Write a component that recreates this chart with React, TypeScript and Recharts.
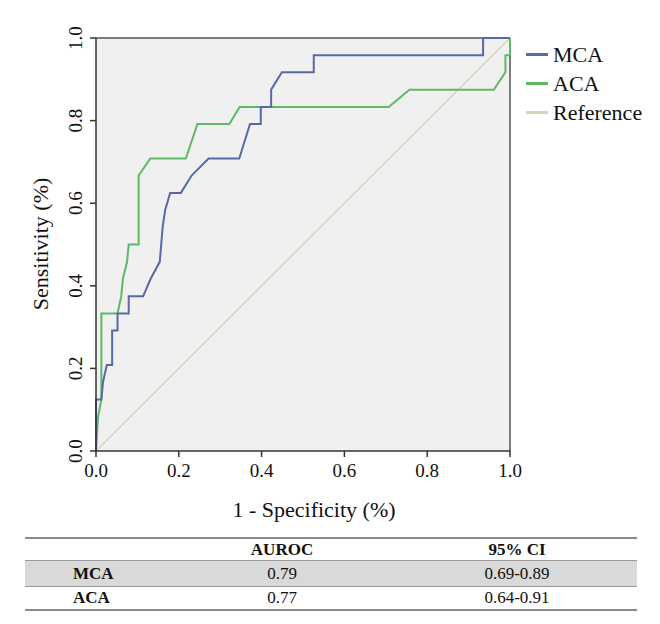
import React from 'react'
import {
  LineChart,
  Line,
  XAxis,
  YAxis,
  CartesianGrid,
  ReferenceLine,
  Legend,
  Label,
} from 'recharts'

// ROC points (1 - specificity, sensitivity)
const mcaFpr = [0, 0, 0.013, 0.017, 0.026, 0.039, 0.039, 0.052, 0.052, 0.079, 0.079, 0.114, 0.132, 0.154, 0.161, 0.167, 0.179, 0.205, 0.231, 0.272, 0.346, 0.372, 0.398, 0.398, 0.423, 0.423, 0.449, 0.526, 0.526, 0.935, 0.935, 1]
const mcaTpr = [0, 0.125, 0.125, 0.167, 0.208, 0.208, 0.292, 0.292, 0.333, 0.333, 0.375, 0.375, 0.417, 0.458, 0.542, 0.583, 0.625, 0.625, 0.667, 0.708, 0.708, 0.792, 0.792, 0.833, 0.833, 0.875, 0.917, 0.917, 0.958, 0.958, 1, 1]

const acaFpr = [0, 0.005, 0.013, 0.013, 0.052, 0.061, 0.065, 0.075, 0.079, 0.103, 0.103, 0.131, 0.217, 0.245, 0.322, 0.347, 0.707, 0.757, 0.961, 0.989, 0.989, 1, 1]
const acaTpr = [0, 0.083, 0.125, 0.333, 0.333, 0.375, 0.417, 0.458, 0.5, 0.5, 0.667, 0.708, 0.708, 0.792, 0.792, 0.833, 0.833, 0.875, 0.875, 0.917, 0.958, 0.958, 1]

const refFpr = [0, 1]
const refTpr = [0, 1]

const axisTicks = [0, 0.2, 0.4, 0.6, 0.8, 1]
const legendOrder = ['MCA', 'ACA', 'Reference']

const tableNames = ['MCA', 'ACA']
const aurocValues = ['0.79', '0.77']
const ciValues = ['0.69-0.89', '0.64-0.91']

const toPoints = (xs: number[], ys: number[]) => xs.map((x, i) => ({ x, y: ys[i] }))

const mcaData = toPoints(mcaFpr, mcaTpr)
const acaData = toPoints(acaFpr, acaTpr)
const refData = toPoints(refFpr, refTpr)

const FONT = '"Liberation Serif", "Times New Roman", Times, serif'

function YTick(props: any) {
  const { x, y, payload } = props
  const bx = x - 6
  return (
    <text
      x={bx}
      y={y}
      transform={`rotate(-90 ${bx} ${y})`}
      textAnchor="middle"
      fontSize={19}
      style={{ fontFamily: FONT }}
      fill="#111"
    >
      {Number(payload.value).toFixed(1)}
    </text>
  )
}

function RocLegend(props: any) {
  const items = [...(props.payload || [])].sort(
    (a: any, b: any) => legendOrder.indexOf(a.value) - legendOrder.indexOf(b.value)
  )
  return (
    <div style={{ fontFamily: FONT, fontSize: 22, color: '#111' }}>
      {items.map((it: any) => (
        <div key={it.value} style={{ height: 29, display: 'flex', alignItems: 'center' }}>
          <span style={{ display: 'inline-block', width: 22, height: 2.5, background: it.color, marginRight: 5 }} />
          <span style={{ lineHeight: '29px' }}>{it.value}</span>
        </div>
      ))}
    </div>
  )
}

export default function App() {
  return (
    <div
      style={{
        position: 'absolute',
        left: 0,
        top: 0,
        width: 660,
        height: 624,
        background: '#fff',
        fontFamily: FONT,
      }}
    >
      <LineChart
        width={660}
        height={530}
        margin={{ top: 38, right: 150, left: 36, bottom: 49 }}
        style={{ fontFamily: FONT }}
      >
        <CartesianGrid fill="#f0f0f0" horizontal={false} vertical={false} />
        <XAxis
          type="number"
          dataKey="x"
          domain={[0, 1]}
          ticks={axisTicks}
          tickFormatter={(v: number) => v.toFixed(1)}
          height={30}
          tickSize={6}
          tickMargin={7}
          stroke="#333"
          strokeWidth={1.5}
          tick={{ fontSize: 19, fill: '#111', style: { fontFamily: FONT } }}
        >
          <Label
            content={(p: any) => {
              const vb = p.viewBox
              return (
                <text
                  x={vb.x + vb.width / 2 + 11}
                  y={517}
                  textAnchor="middle"
                  fontSize={22}
                  style={{ fontFamily: FONT }}
                  fill="#111"
                >
                  1 - Specificity (%)
                </text>
              )
            }}
          />
        </XAxis>
        <YAxis
          type="number"
          domain={[0, 1]}
          ticks={axisTicks}
          width={60}
          tickSize={6}
          tickMargin={2}
          stroke="#333"
          strokeWidth={1.5}
          tick={<YTick />}
        >
          <Label
            content={() => (
              <text
                x={48}
                y={244}
                transform="rotate(-90 48 244)"
                textAnchor="middle"
                fontSize={22}
                style={{ fontFamily: FONT }}
                fill="#111"
              >
                Sensitivity (%)
              </text>
            )}
          />
        </YAxis>
        <ReferenceLine y={1} stroke="#555" strokeWidth={1.5} />
        <ReferenceLine x={1} stroke="#555" strokeWidth={1.5} />
        <Line
          data={refData}
          dataKey="y"
          name="Reference"
          type="linear"
          stroke="#d6d6b2"
          strokeWidth={1.5}
          dot={false}
          legendType="plainline"
          isAnimationActive={false}
        />
        <Line
          data={acaData}
          dataKey="y"
          name="ACA"
          type="linear"
          stroke="#5fb865"
          strokeWidth={2}
          dot={false}
          legendType="plainline"
          isAnimationActive={false}
        />
        <Line
          data={mcaData}
          dataKey="y"
          name="MCA"
          type="linear"
          stroke="#5a68a6"
          strokeWidth={2}
          dot={false}
          legendType="plainline"
          isAnimationActive={false}
        />
        <Legend
          layout="horizontal"
          align="left"
          verticalAlign="top"
          content={<RocLegend />}
          wrapperStyle={{ position: 'absolute', left: 526, top: 40, width: 134, height: 0 }}
        />
      </LineChart>

      <div style={{ position: 'absolute', left: 25, top: 537, width: 612, fontSize: 17, color: '#111' }}>
        <div style={{ borderTop: '2px solid #8a8a8a', height: 21, position: 'relative', lineHeight: '21px', fontWeight: 'bold' }}>
          <span style={{ position: 'absolute', left: 257, transform: 'translateX(-50%)' }}>AUROC</span>
          <span style={{ position: 'absolute', left: 492, transform: 'translateX(-50%)' }}>95% CI</span>
        </div>
        {tableNames.map((name, i) => (
          <div
            key={name}
            style={{
              borderTop: '1px solid #999',
              height: i === 0 ? 25 : 22,
              lineHeight: i === 0 ? '25px' : '22px',
              position: 'relative',
              background: i === 0 ? '#d9d9d9' : '#fff',
            }}
          >
            <span style={{ position: 'absolute', left: 48, fontWeight: 'bold' }}>{name}</span>
            <span style={{ position: 'absolute', left: 257, transform: 'translateX(-50%)' }}>{aurocValues[i]}</span>
            <span style={{ position: 'absolute', left: 492, transform: 'translateX(-50%)' }}>{ciValues[i]}</span>
          </div>
        ))}
        <div style={{ borderTop: '2px solid #8a8a8a' }} />
      </div>
    </div>
  )
}
